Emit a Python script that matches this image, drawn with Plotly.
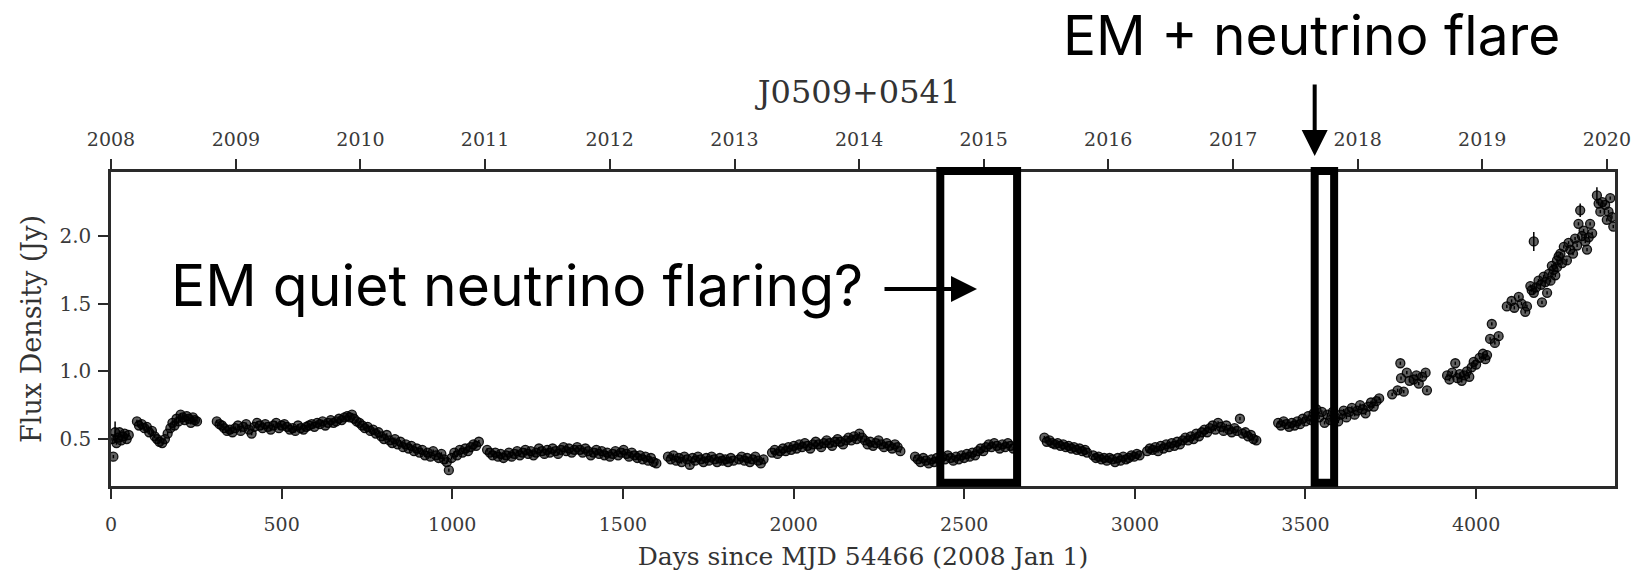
import plotly.graph_objects as go

# ---------------- data ----------------
seg1_days = [3, 7, 12, 16, 20, 25, 30, 35, 40, 46, 52]
seg1_flux = [0.50, 0.37, 0.55, 0.47, 0.51, 0.55, 0.49, 0.52, 0.54, 0.50, 0.53]

seg2_days = [76, 82, 90, 98, 105, 112, 120, 128, 135, 142, 150, 158, 166, 174, 180, 186,
             192, 198, 204, 210, 216, 222, 228, 234, 240, 246, 252]
seg2_flux = [0.63, 0.60, 0.61, 0.58, 0.59, 0.55, 0.56, 0.52, 0.50, 0.48, 0.47, 0.50, 0.54,
             0.58, 0.62, 0.60, 0.65, 0.63, 0.68, 0.66, 0.64, 0.67, 0.65, 0.62, 0.66, 0.64, 0.63]

seg3_days = [310, 318, 325, 332, 340, 348, 356, 364, 372, 380, 388, 396, 404, 412, 420, 428,
             436, 444, 452, 460, 468, 476, 484, 492, 500, 508, 516, 524, 532, 540, 548, 556,
             564, 572, 580, 588, 596, 604, 612, 620, 628, 636, 644, 652, 660, 668, 676, 684,
             692, 700, 706]
seg3_flux = [0.63, 0.61, 0.60, 0.58, 0.56, 0.57, 0.55, 0.58, 0.60, 0.56, 0.59, 0.61, 0.57,
             0.54, 0.59, 0.62, 0.60, 0.58, 0.61, 0.59, 0.57, 0.60, 0.62, 0.58, 0.60, 0.61,
             0.59, 0.57, 0.58, 0.56, 0.60, 0.58, 0.57, 0.59, 0.60, 0.61, 0.59, 0.62, 0.61,
             0.63, 0.60, 0.62, 0.64, 0.62, 0.63, 0.65, 0.64, 0.66, 0.67, 0.66, 0.68]

seg4_days = [712, 720, 728, 736, 744, 752, 760, 768, 776, 784, 792, 800, 808, 816, 824, 832,
             840, 848, 856, 864, 872, 880, 888, 896, 904, 912, 920]
seg4_flux = [0.65, 0.63, 0.62, 0.60, 0.58, 0.59, 0.56, 0.57, 0.54, 0.55, 0.52, 0.50, 0.53,
             0.49, 0.47, 0.50, 0.46, 0.48, 0.44, 0.46, 0.43, 0.45, 0.41, 0.43, 0.40, 0.42, 0.38]

seg5_days = [928, 936, 944, 952, 960, 968, 976, 984, 990, 998, 1006, 1014, 1022, 1030, 1038,
             1046, 1054, 1062, 1070, 1078]
seg5_flux = [0.40, 0.37, 0.41, 0.38, 0.36, 0.39, 0.35, 0.33, 0.27, 0.36, 0.40, 0.38, 0.42,
             0.40, 0.43, 0.41, 0.44, 0.46, 0.45, 0.48]

seg6_days = [1102, 1110, 1118, 1126, 1134, 1142, 1150, 1158, 1166, 1174, 1182, 1190, 1198,
             1206, 1214, 1222, 1230, 1238, 1246, 1254, 1262, 1270, 1278, 1286, 1294, 1302,
             1310, 1318, 1326, 1334, 1342, 1350, 1358, 1366, 1374, 1382, 1390, 1398, 1406,
             1414, 1422, 1430, 1438, 1446, 1454, 1462, 1470, 1478, 1486, 1494, 1502, 1510,
             1518, 1526, 1534, 1542, 1550, 1558, 1566, 1574, 1582, 1590, 1598]
seg6_flux = [0.42, 0.40, 0.38, 0.40, 0.37, 0.39, 0.36, 0.38, 0.40, 0.37, 0.39, 0.41, 0.38,
             0.40, 0.42, 0.39, 0.41, 0.38, 0.40, 0.43, 0.41, 0.39, 0.42, 0.40, 0.43, 0.41,
             0.39, 0.42, 0.44, 0.41, 0.43, 0.40, 0.42, 0.44, 0.42, 0.40, 0.43, 0.41, 0.38,
             0.40, 0.42, 0.39, 0.41, 0.38, 0.40, 0.37, 0.39, 0.41, 0.38, 0.40, 0.42, 0.39,
             0.37, 0.40, 0.38, 0.36, 0.38, 0.35, 0.37, 0.34, 0.36, 0.33, 0.32]

seg7_days = [1632, 1640, 1648, 1656, 1664, 1672, 1680, 1688, 1696, 1704, 1712, 1720, 1728,
             1736, 1744, 1752, 1760, 1768, 1776, 1784, 1792, 1800, 1808, 1816, 1824, 1840,
             1848, 1856, 1864, 1872, 1880, 1888, 1896, 1904, 1912]
seg7_flux = [0.37, 0.35, 0.38, 0.34, 0.36, 0.33, 0.37, 0.35, 0.31, 0.36, 0.34, 0.37, 0.35,
             0.33, 0.36, 0.34, 0.37, 0.35, 0.33, 0.36, 0.34, 0.35, 0.33, 0.36, 0.34, 0.35,
             0.37, 0.34, 0.36, 0.33, 0.35, 0.37, 0.34, 0.32, 0.35]

seg8_days = [1937, 1945, 1953, 1961, 1969, 1977, 1985, 1993, 2001, 2009, 2017, 2025, 2033,
             2041, 2049, 2057, 2065, 2073, 2081, 2089, 2097, 2105, 2113, 2121, 2129, 2137,
             2145, 2153, 2161, 2169, 2177, 2185, 2193, 2201, 2209, 2217, 2225, 2233, 2241,
             2249, 2257, 2265, 2273, 2281, 2289, 2297, 2305, 2313]
seg8_flux = [0.40, 0.42, 0.39, 0.41, 0.43, 0.41, 0.44, 0.42, 0.45, 0.43, 0.46, 0.44, 0.47,
             0.45, 0.43, 0.46, 0.48, 0.46, 0.44, 0.47, 0.49, 0.47, 0.45, 0.48, 0.50, 0.48,
             0.46, 0.49, 0.51, 0.49, 0.52, 0.50, 0.54, 0.51, 0.49, 0.46, 0.48, 0.45, 0.47,
             0.49, 0.46, 0.44, 0.47, 0.45, 0.43, 0.46, 0.44, 0.41]

seg9_days = [2356, 2364, 2372, 2380, 2388, 2396, 2404, 2412, 2420, 2428, 2436, 2444, 2452,
             2460, 2468, 2476, 2484, 2492, 2500, 2508, 2516, 2524, 2532, 2540, 2548, 2556,
             2564, 2572, 2580, 2588, 2596, 2604, 2612, 2620, 2628, 2636, 2644]
seg9_flux = [0.37, 0.35, 0.33, 0.36, 0.34, 0.32, 0.35, 0.33, 0.36, 0.34, 0.37, 0.35, 0.38,
             0.36, 0.34, 0.37, 0.35, 0.38, 0.36, 0.39, 0.37, 0.40, 0.38, 0.41, 0.43, 0.41,
             0.44, 0.46, 0.44, 0.47, 0.45, 0.43, 0.46, 0.44, 0.47, 0.45, 0.43]

seg10_days = [2735, 2742, 2750, 2758, 2766, 2774, 2782, 2790, 2798, 2806, 2814, 2822, 2830,
              2838, 2846, 2854, 2860]
seg10_flux = [0.51, 0.48, 0.49, 0.47, 0.46, 0.47, 0.45, 0.46, 0.44, 0.45, 0.43, 0.44, 0.42,
              0.43, 0.41, 0.42, 0.40]

seg11_days = [2878, 2886, 2894, 2902, 2910, 2918, 2926, 2934, 2942, 2950, 2958, 2966, 2974,
              2982, 2990, 2998, 3006, 3014]
seg11_flux = [0.38, 0.36, 0.37, 0.35, 0.36, 0.34, 0.36, 0.35, 0.33, 0.36, 0.34, 0.37, 0.35,
              0.36, 0.38, 0.37, 0.39, 0.38]

seg12_days = [3036, 3044, 3052, 3060, 3068, 3076, 3084, 3092, 3100, 3108, 3116, 3124, 3132,
              3140, 3148, 3156, 3164, 3172, 3180, 3188, 3196, 3204, 3212, 3220, 3228, 3236,
              3244, 3252, 3260, 3268, 3276, 3284, 3292, 3300, 3308, 3316, 3324, 3332, 3340,
              3348, 3356]
seg12_flux = [0.41, 0.43, 0.42, 0.44, 0.41, 0.45, 0.43, 0.46, 0.44, 0.47, 0.45, 0.48, 0.46,
              0.49, 0.51, 0.49, 0.52, 0.50, 0.54, 0.52, 0.55, 0.57, 0.55, 0.58, 0.60, 0.57,
              0.62, 0.59, 0.56, 0.60, 0.57, 0.55, 0.58, 0.56, 0.65, 0.54, 0.55, 0.52, 0.53,
              0.50, 0.49]

seg13_days = [3420, 3428, 3436, 3444, 3452, 3460, 3468, 3476, 3484, 3492, 3500, 3508, 3516,
              3524, 3532, 3540, 3548, 3556, 3564, 3572, 3580, 3588, 3596, 3604, 3612, 3620,
              3628, 3636, 3644, 3652, 3660, 3668, 3676, 3684, 3692, 3700, 3708, 3716]
seg13_flux = [0.62, 0.60, 0.63, 0.61, 0.59, 0.62, 0.60, 0.63, 0.61, 0.65, 0.63, 0.67, 0.64,
              0.69, 0.72, 0.66, 0.70, 0.62, 0.68, 0.64, 0.70, 0.66, 0.63, 0.68, 0.71, 0.66,
              0.70, 0.73, 0.68, 0.71, 0.75, 0.72, 0.69, 0.74, 0.77, 0.74, 0.78, 0.80]

seg14_days = [3754, 3770, 3778, 3780, 3788, 3797, 3805, 3817, 3825, 3832, 3842, 3852, 3856]
seg14_flux = [0.83, 0.86, 1.06, 0.95, 0.85, 0.99, 0.93, 0.94, 0.97, 0.91, 0.96, 0.99, 0.86]

seg15_days = [3915, 3922, 3930, 3939, 3945, 3952, 3958, 3965, 3973, 3980, 3987, 3993, 4000,
              4010, 4020, 4027, 4032, 4041, 4046, 4055, 4066]
seg15_flux = [0.97, 0.94, 0.99, 1.06, 0.95, 0.98, 0.93, 0.97, 1.00, 0.96, 1.03, 1.07, 1.05,
              1.10, 1.13, 1.09, 1.12, 1.24, 1.35, 1.21, 1.26]

seg16_days = [4090, 4104, 4112, 4125, 4133, 4144, 4149, 4159, 4163, 4169, 4169, 4176, 4183,
              4190, 4193, 4198, 4203, 4208, 4213, 4218, 4222, 4227, 4232, 4237, 4237, 4242,
              4247, 4252, 4257]
seg16_flux = [1.48, 1.52, 1.47, 1.55, 1.50, 1.44, 1.48, 1.63, 1.60, 1.58, 1.96, 1.62, 1.67,
              1.64, 1.51, 1.70, 1.66, 1.58, 1.72, 1.67, 1.78, 1.75, 1.71, 1.82, 1.77, 1.85,
              1.87, 1.80, 1.92]

seg17_days = [4266, 4271, 4276, 4284, 4290, 4296, 4300, 4305, 4310, 4315, 4320, 4325, 4330,
              4334, 4340, 4354, 4359, 4364, 4370, 4378, 4383, 4388, 4393, 4398, 4402]
seg17_flux = [1.82, 1.95, 1.90, 1.87, 1.98, 1.93, 2.09, 2.19, 2.00, 2.04, 1.96, 1.90, 1.99,
              2.09, 2.02, 2.30, 2.24, 2.18, 2.25, 2.23, 2.12, 2.18, 2.28, 2.14, 2.07]

# typical measurement error, with a few points that carry visibly larger bars
typical_err = 0.012
large_err = {(12, 0.55): 0.08, (4169, 1.96): 0.07, (4354, 2.30): 0.06, (4305, 2.19): 0.05}

year_labels = ["2008", "2009", "2010", "2011", "2012", "2013", "2014", "2015", "2016",
               "2017", "2018", "2019", "2020"]
year_start_days = [0, 366, 731, 1096, 1461, 1827, 2192, 2557, 2922, 3288, 3653, 4018, 4383]

box_quiet = (2430, 2655)    # EM-quiet neutrino window (days)
box_flare = (3527, 3584)    # EM + neutrino flare window (days)

# ---------------- assemble ----------------
segs_d = [seg1_days, seg2_days, seg3_days, seg4_days, seg5_days, seg6_days, seg7_days,
          seg8_days, seg9_days, seg10_days, seg11_days, seg12_days, seg13_days, seg14_days,
          seg15_days, seg16_days, seg17_days]
segs_f = [seg1_flux, seg2_flux, seg3_flux, seg4_flux, seg5_flux, seg6_flux, seg7_flux,
          seg8_flux, seg9_flux, seg10_flux, seg11_flux, seg12_flux, seg13_flux, seg14_flux,
          seg15_flux, seg16_flux, seg17_flux]
days = [d for s in segs_d for d in s]
flux = [f for s in segs_f for f in s]
errs = [large_err.get((d, f), typical_err) for d, f in zip(days, flux)]

X0, X1 = 0, 4407
Y0, Y1 = 0.153, 2.473

W, H = 1647, 571
ML, MT = 111, 172
PW, PH = 1504, 314
MR = W - ML - PW
MB = H - MT - PH

serif = "DejaVu Serif"
sans = "Inter"
tick_col = "#3a3a3a"


def px_x(p):   # page pixel -> paper x
    return (p - ML) / PW


def px_y(p):   # page pixel -> paper y
    return (MT + PH - p) / PH


fig = go.Figure()
fig.add_trace(go.Scatter(
    x=days, y=flux, mode="markers",
    marker=dict(size=9, color="rgba(0,0,0,0.62)", line=dict(width=1.3, color="rgba(0,0,0,0.9)")),
    error_y=dict(type="data", array=errs, visible=True, thickness=1.5, width=0, color="black"),
    showlegend=False, hoverinfo="skip"))
# invisible copy to activate the top (calendar-year) axis
fig.add_trace(go.Scatter(x=days, y=flux, mode="markers", xaxis="x2",
                         marker=dict(opacity=0), showlegend=False, hoverinfo="skip"))

axis_common = dict(showline=True, linecolor="#2a2a2a", linewidth=2.5, ticks="outside",
                   ticklen=10, tickwidth=1.5, tickcolor="#2a2a2a", showgrid=False,
                   zeroline=False, automargin=False)

fig.update_layout(
    width=W, height=H,
    margin=dict(l=ML, r=MR, t=MT, b=MB, autoexpand=False),
    paper_bgcolor="white", plot_bgcolor="white",
    title=dict(text="J0509+0541", x=(ML + PW / 2 - 4) / W, xanchor="center",
               y=1 - 92 / H, yanchor="middle", yref="container",
               font=dict(family=serif, size=32, color="#333")),
    xaxis=dict(range=[X0, X1], dtick=500, tick0=0, ticklabelstandoff=9,
               tickfont=dict(family=serif, size=19, color=tick_col),
               title=dict(text="Days since MJD 54466 (2008 Jan 1)",
                          font=dict(family=serif, size=25, color="#333"), standoff=20),
               **axis_common),
    xaxis2=dict(range=[X0, X1], overlaying="x", side="top", anchor="y",
                ticklabelstandoff=6, tickfont=dict(family=serif, size=19, color=tick_col),
                tickvals=year_start_days, ticktext=year_labels, **axis_common),
    yaxis=dict(range=[Y0, Y1], tickvals=[0.5, 1.0, 1.5, 2.0], ticktext=["0.5", "1.0", "1.5", "2.0"],
               mirror=True, ticklabelstandoff=3, tickfont=dict(family=serif, size=20, color=tick_col),
               title=dict(text="Flux Density (Jy)", font=dict(family=serif, size=27, color="#333"),
                          standoff=10),
               **axis_common),
)

# highlight boxes
for (a, b) in (box_quiet, box_flare):
    fig.add_shape(type="rect", xref="x", yref="paper", x0=a, x1=b, y0=0.01, y1=1.003,
                  line=dict(color="black", width=8), fillcolor="rgba(0,0,0,0)")

# text labels
fig.add_annotation(text="EM + neutrino flare", xref="paper", yref="paper",
                   x=px_x(1311), y=px_y(35), xanchor="center", yanchor="middle",
                   showarrow=False, font=dict(family=sans, size=55, color="black"))
fig.add_annotation(text="EM quiet neutrino flaring?", xref="paper", yref="paper",
                   x=px_x(517), y=px_y(285), xanchor="center", yanchor="middle",
                   showarrow=False, font=dict(family=sans, size=57, color="black"))

# arrows
fig.add_annotation(text="", xref="paper", yref="paper", x=px_x(977),
                   y=px_y(289), ax=-94, ay=0, axref="pixel", ayref="pixel",
                   showarrow=True, arrowhead=2, arrowsize=1.3, arrowwidth=4, arrowcolor="black")
fig.add_annotation(text="", xref="x", yref="paper", x=box_flare[0],
                   y=px_y(156), ax=0, ay=-73, axref="pixel", ayref="pixel",
                   showarrow=True, arrowhead=2, arrowsize=1.3, arrowwidth=4, arrowcolor="black")

# the page's default 8px body margin is removed so the figure fills the window exactly
fig.write_html("out.html", config=dict(displayModeBar=False),
               post_script="document.body.style.margin='0';")
